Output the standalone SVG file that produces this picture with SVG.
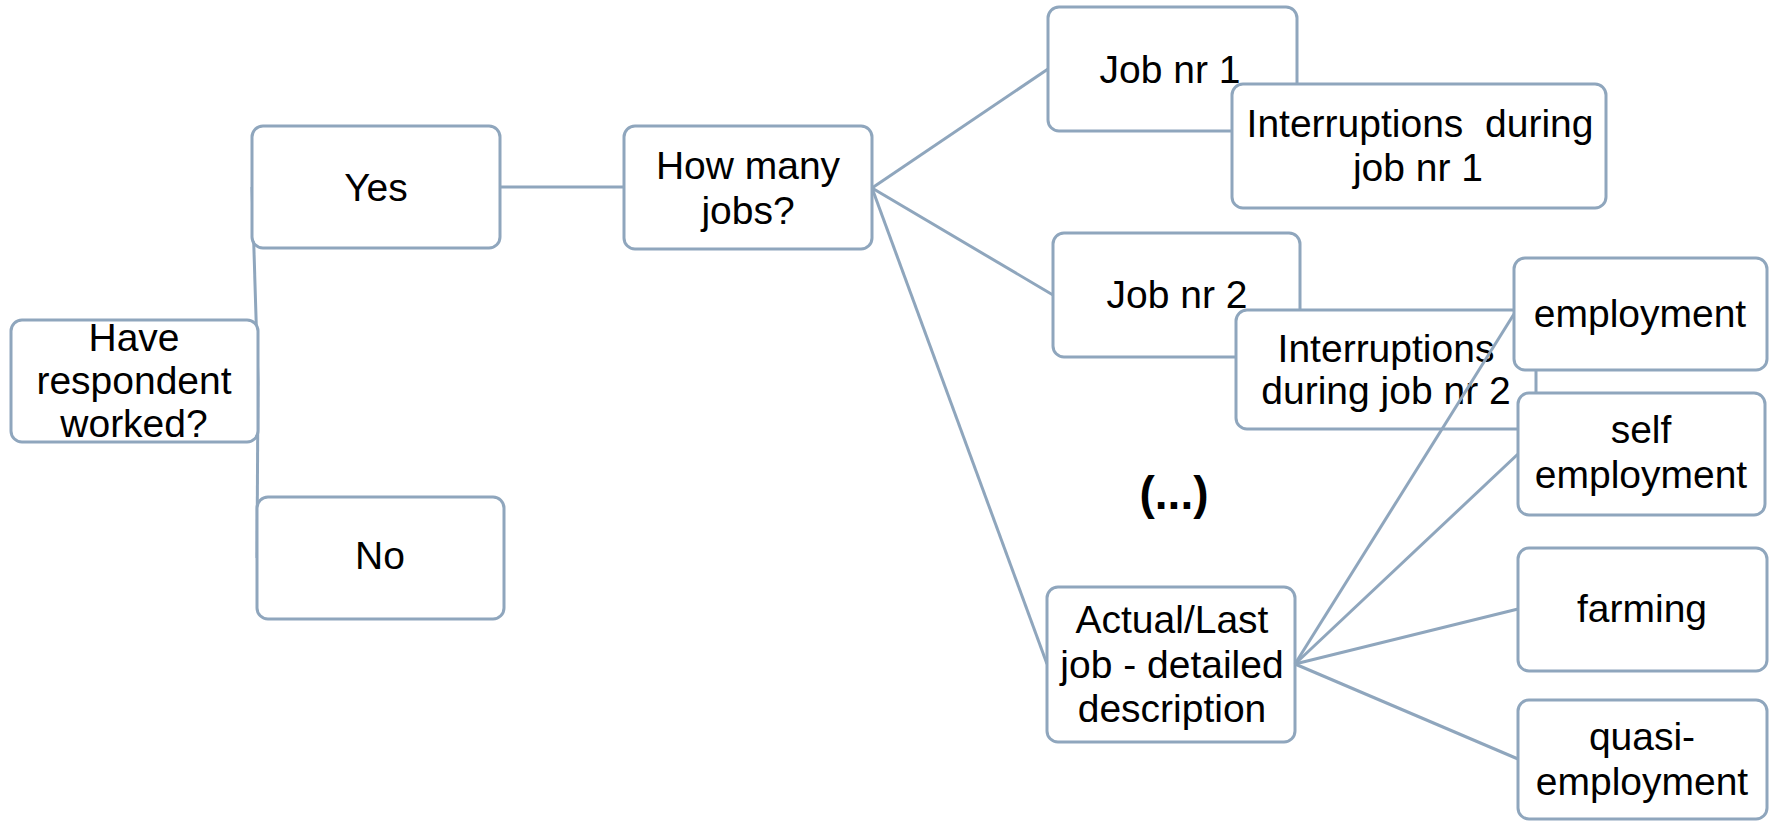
<svg xmlns="http://www.w3.org/2000/svg" width="1771" height="821" viewBox="0 0 1771 821">
<style>
.box{fill:#fff;stroke:#8FA6BD;stroke-width:3}
.ln{stroke:#8FA6BD;stroke-width:3;fill:none}
text{font-family:"Liberation Sans",Arial,sans-serif;font-size:39px;fill:#000;text-anchor:middle}
.b{font-weight:bold;font-size:46px}
</style>
<rect width="1771" height="821" fill="#fff"/>
<g id="connectors">
<line class="ln" x1="258" y1="381" x2="252" y2="187"/>
<line class="ln" x1="258" y1="381" x2="257" y2="558"/>
<line class="ln" x1="500" y1="187" x2="624" y2="187"/>
<line class="ln" x1="872" y1="188" x2="1048" y2="69"/>
<line class="ln" x1="872" y1="188" x2="1053" y2="295"/>
<line class="ln" x1="872" y1="188" x2="1047" y2="664"/>
<line class="ln" x1="1300" y1="295" x2="1236" y2="369"/>
</g>
<g id="n-have"><rect class="box" x="11" y="320" width="247" height="122" rx="11"/><text x="134" y="351">Have</text><text x="134" y="394">respondent</text><text x="134" y="437">worked?</text></g>
<g id="n-yes"><rect class="box" x="252" y="126" width="248" height="122" rx="11"/><text x="376" y="201">Yes</text></g>
<g id="n-no"><rect class="box" x="257" y="497" width="247" height="122" rx="11"/><text x="380" y="569">No</text></g>
<g id="n-how"><rect class="box" x="624" y="126" width="248" height="123" rx="11"/><text x="748" y="179">How many</text><text x="748" y="224">jobs?</text></g>
<g id="n-job1"><rect class="box" x="1048" y="7" width="249" height="124" rx="11"/><text x="1170" y="83">Job nr 1</text></g>
<g id="n-int1"><rect class="box" x="1232" y="84" width="374" height="124" rx="11"/><text x="1420" y="137" xml:space="preserve">Interruptions  during</text><text x="1418" y="181">job nr 1</text></g>
<g id="n-job2"><rect class="box" x="1053" y="233" width="247" height="124" rx="11"/><text x="1177" y="308">Job nr 2</text></g>
<g id="n-int2"><rect class="box" x="1236" y="310" width="300" height="119" rx="11"/><text x="1386" y="362">Interruptions</text><text x="1386" y="404">during job nr 2</text></g>
<g id="n-etc"><text class="b" x="1174" y="509">(...)</text></g>
<g id="n-actual"><rect class="box" x="1047" y="587" width="248" height="155" rx="11"/><text x="1172" y="633">Actual/Last</text><text x="1172" y="678">job - detailed</text><text x="1172" y="722">description</text></g>
<g id="connectors-actual">
<line class="ln" x1="1295" y1="664" x2="1514" y2="314"/>
<line class="ln" x1="1295" y1="664" x2="1518" y2="454"/>
<line class="ln" x1="1295" y1="664" x2="1518" y2="609"/>
<line class="ln" x1="1295" y1="664" x2="1518" y2="759"/>
</g>
<g id="n-employment"><rect class="box" x="1514" y="258" width="253" height="112" rx="11"/><text x="1640" y="327">employment</text></g>
<g id="n-self"><rect class="box" x="1518" y="393" width="247" height="122" rx="11"/><text x="1641" y="443">self</text><text x="1641" y="488">employment</text></g>
<g id="n-farming"><rect class="box" x="1518" y="548" width="249" height="123" rx="11"/><text x="1642" y="622">farming</text></g>
<g id="n-quasi"><rect class="box" x="1518" y="700" width="249" height="119" rx="11"/><text x="1642" y="750">quasi-</text><text x="1642" y="795">employment</text></g>
</svg>
